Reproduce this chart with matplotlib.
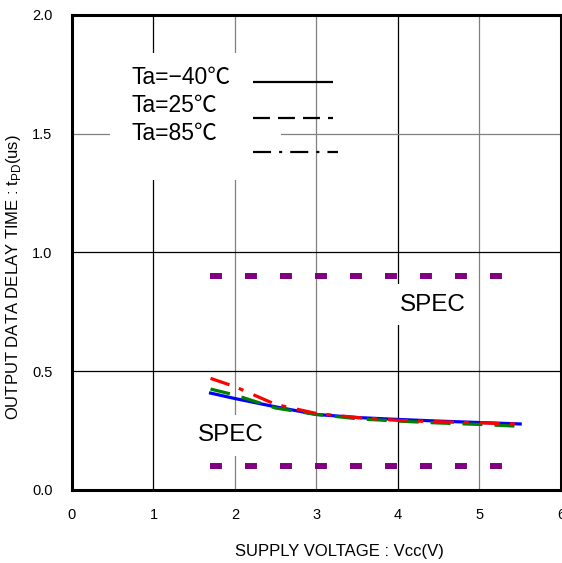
import numpy as np
import matplotlib
matplotlib.use("Agg")
import matplotlib.pyplot as plt
from matplotlib.patches import Rectangle

plt.rcParams['font.family'] = ['Liberation Sans', 'Noto Sans CJK JP', 'DejaVu Sans']
plt.rcParams['lines.scale_dashes'] = False

# Data
vcc = [1.7, 2.0, 2.5, 3.0, 3.5, 4.0, 4.5, 5.0, 5.5]
tpd_m40 = [0.408, 0.385, 0.350, 0.318, 0.305, 0.297, 0.290, 0.284, 0.278]
tpd_25 = [0.425, 0.400, 0.345, 0.318, 0.300, 0.290, 0.282, 0.276, 0.268]
tpd_85 = [0.470, 0.435, 0.360, 0.322, 0.305, 0.293, 0.287, 0.283, 0.277]

spec_x = [1.69, 5.3]
spec_max = 0.9
spec_min = 0.1

legend_labels = ['Ta=\u221240\u2103', 'Ta=25\u2103', 'Ta=85\u2103']

xticks = [0, 1, 2, 3, 4, 5, 6]
yticks = [0.0, 0.5, 1.0, 1.5, 2.0]
vgrid = {1: 'black', 2: '#808080', 3: '#808080', 4: 'black', 5: '#808080'}
hgrid = {0.5: 'black', 1.0: 'black', 1.5: '#808080'}

fig = plt.figure(figsize=(5.62, 5.63), dpi=100)
ax = fig.add_axes([0.1281, 0.1297, 0.8700, 0.8437])

ax.set_xlim(0, 6)
ax.set_ylim(0, 2)

# grid lines
for xv, c in vgrid.items():
    ax.axvline(xv, color=c, lw=0.9, zorder=0.5)
for yv, c in hgrid.items():
    ax.axhline(yv, color=c, lw=0.9, zorder=0.5)

# white panel behind the legend text
ax.add_patch(Rectangle((0.465, 1.305), 2.105, 0.535, facecolor='white',
                       edgecolor='none', zorder=1))

# spec lines
for sv in [spec_max, spec_min]:
    ax.plot(spec_x, [sv, sv], color='#800080', lw=4.3, dashes=(8.6, 16.6),
            solid_capstyle='butt', dash_capstyle='butt', zorder=2)

# curves
ax.plot(vcc, tpd_m40, color='blue', lw=2.3, zorder=3)
ax.plot(vcc, tpd_25, color='green', lw=2.3, dashes=(14.4, 8.6),
        dash_capstyle='butt', zorder=3)
ax.plot(vcc, tpd_85, color='red', lw=2.3, dashes=(14.4, 7.2, 3.6, 7.9),
        dash_capstyle='butt', zorder=3)

# legend (text + black sample lines)
text_y = [1.735, 1.617, 1.503]
sample_y = [1.718, 1.566, 1.423]
sample_dash = [None, (12.2, 5.8), (13, 5.8, 2.2, 5.8)]
sample_end = [3.2, 3.2, 3.27]
for lab, ty, sy, ds, xe in zip(legend_labels, text_y, sample_y, sample_dash, sample_end):
    ax.text(0.73, ty, lab, fontsize=16.5, ha='left', va='center', zorder=4)
    kw = {} if ds is None else {'dashes': ds}
    ax.plot([2.22, xe], [sy, sy], color='black', lw=1.6,
            dash_capstyle='butt', solid_capstyle='butt', zorder=4, **kw)

# SPEC labels
box = dict(boxstyle='square,pad=0.4', facecolor='white', edgecolor='none')
ax.text(4.02, 0.78, 'SPEC', fontsize=17.5, ha='left', va='center', bbox=box, zorder=2.5)
ax.text(1.54, 0.23, 'SPEC', fontsize=17.5, ha='left', va='center', bbox=box, zorder=2.5)

ax.set_xticks(xticks)
ax.set_yticks(yticks)
ax.set_xticklabels([str(t) for t in xticks])
ax.set_yticklabels([f'{t:.1f}' for t in yticks])
ax.tick_params(axis='both', length=0, labelsize=10.5, colors='black')
ax.tick_params(axis='x', pad=13)
ax.tick_params(axis='y', pad=14)

for sp in ax.spines.values():
    sp.set_linewidth(2.2)
    sp.set_color('black')

ax.set_xlabel('SUPPLY VOLTAGE : Vcc(V)', fontsize=12, va='center')
ax.xaxis.set_label_coords(0.548, -0.130)
ax.set_ylabel('OUTPUT DATA DELAY TIME : t$_{\\mathregular{PD}}$(us)', fontsize=12, va='center')
ax.yaxis.set_label_coords(-0.119, 0.448)

fig.savefig('out.png', dpi=100)
